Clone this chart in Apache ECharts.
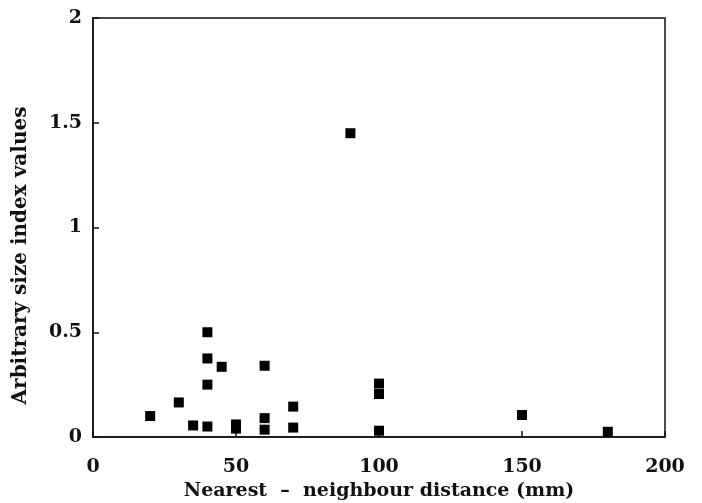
<!DOCTYPE html>
<html><head><meta charset="utf-8">
<script src="https://cdn.jsdelivr.net/npm/echarts@6/dist/echarts.min.js"></script>
<style>html,body{margin:0;padding:0;background:#fff}#c{width:702px;height:503px}</style>
</head><body><div id="c"></div>
<script>
const distances = [20, 30, 35, 40, 40, 40, 40, 45, 50, 50, 60, 60, 60, 70, 70, 90, 100, 100, 100, 150, 180];
const sizeIndex = [0.10, 0.165, 0.055, 0.05, 0.25, 0.375, 0.50, 0.335, 0.06, 0.04, 0.34, 0.09, 0.035, 0.145, 0.045, 1.45, 0.255, 0.205, 0.03, 0.105, 0.025];
const xTicks = [0, 50, 100, 150, 200];
const yTicks = [0, 0.5, 1, 1.5, 2];
const xTitle = 'Nearest  \u2013  neighbour distance (mm)';
const yTitle = 'Arbitrary size index values';

const font = '"DejaVu Serif", "Liberation Serif", serif';
const chart = echarts.init(document.getElementById('c'), null, {renderer: 'canvas'});
chart.setOption({
  animation: false,
  backgroundColor: '#fff',
  grid: {left: 93, right: 37, top: 18, bottom: 66, show: true, borderColor: '#111', borderWidth: 1.5, backgroundColor: 'transparent', containLabel: false, outerBoundsMode: 'none'},
  xAxis: {
    type: 'value', min: 0, max: 200, interval: 50,
    name: xTitle, nameLocation: 'middle', nameGap: 37,
    nameTextStyle: {fontFamily: font, fontWeight: 'bold', fontSize: 19, color: '#111'},
    axisLine: {show: true, lineStyle: {color: '#111', width: 1.5}},
    axisTick: {show: true, inside: true, length: 6, lineStyle: {color: '#111', width: 1.5}},
    axisLabel: {fontFamily: font, fontWeight: 'bold', fontSize: 19, color: '#111', margin: 21,
      formatter: v => xTicks.includes(v) ? String(v) : ''},
    splitLine: {show: false}
  },
  yAxis: {
    type: 'value', min: 0, max: 2, interval: 0.5,
    name: yTitle, nameLocation: 'middle', nameGap: 62, nameRotate: 90,
    nameTextStyle: {fontFamily: font, fontWeight: 'bold', fontSize: 20, color: '#111', padding: [0, 56, 0, 0]},
    axisLine: {show: true, lineStyle: {color: '#111', width: 1.5}},
    axisTick: {show: true, inside: true, length: 6, lineStyle: {color: '#111', width: 1.5}},
    axisLabel: {fontFamily: font, fontWeight: 'bold', fontSize: 19, color: '#111', margin: 11,
      formatter: v => yTicks.includes(v) ? String(v) : ''},
    splitLine: {show: false}
  },
  series: [{
    type: 'scatter',
    symbol: 'rect',
    symbolSize: 10,
    itemStyle: {color: '#000', opacity: 1},
    data: distances.map((d, i) => [d, sizeIndex[i]])
  }]
});
</script></body></html>
